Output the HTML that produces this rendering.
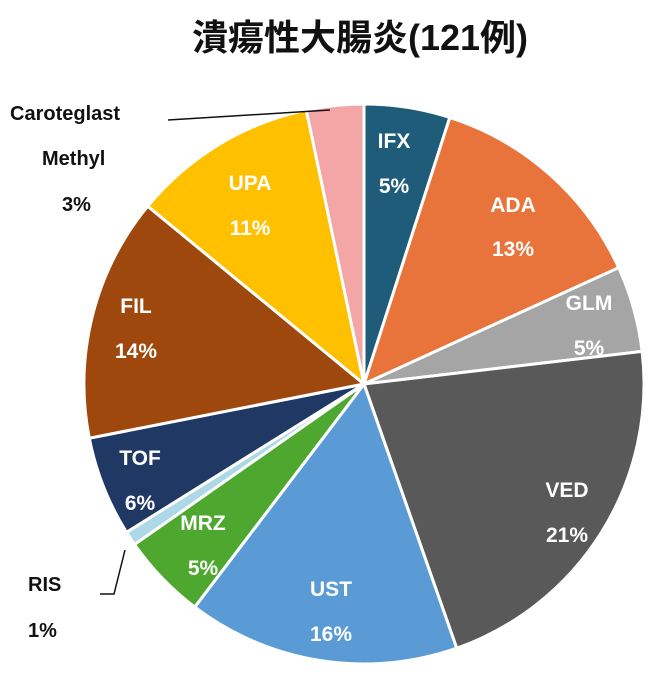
<!DOCTYPE html>
<html><head><meta charset="utf-8"><style>
html,body{margin:0;padding:0;background:#fff;}
svg{display:block;}
text{font-family:"Liberation Sans","Noto Sans CJK JP",sans-serif;font-weight:bold;}
</style></head><body>
<svg id="s" width="662" height="694" viewBox="0 0 662 694">
<text x="360" y="50" font-size="36" text-anchor="middle" fill="#111">潰瘍性大腸炎(121例)</text>
<g id="pie"></g>
<g font-size="21" fill="#fff" text-anchor="middle">
<text x="394" y="148">IFX</text><text x="394" y="193">5%</text>
<text x="513" y="212">ADA</text><text x="513" y="256">13%</text>
<text x="589" y="310">GLM</text><text x="589" y="355">5%</text>
<text x="567" y="497">VED</text><text x="567" y="542">21%</text>
<text x="331" y="596">UST</text><text x="331" y="641">16%</text>
<text x="203" y="530">MRZ</text><text x="203" y="575">5%</text>
<text x="140" y="465">TOF</text><text x="140" y="510">6%</text>
<text x="136" y="313">FIL</text><text x="136" y="358">14%</text>
<text x="250" y="190">UPA</text><text x="250" y="235">11%</text>
</g>
<g font-size="20" fill="#111">
<text x="10" y="120">Caroteglast</text>
<text x="42" y="165">Methyl</text>
<text x="62" y="211">3%</text>
<text x="28" y="591">RIS</text>
<text x="28" y="637">1%</text>
</g>
<polyline points="168,120 330,110" fill="none" stroke="#111" stroke-width="1.5"/>
<polyline points="100,594 114,594 125,550" fill="none" stroke="#111" stroke-width="1.5"/>
</svg>
<script>
var d=[[6,"#1F5C7A"],[16,"#E8743B"],[6,"#A5A5A5"],[26,"#595959"],[19,"#5B9BD5"],[6,"#4EA72E"],[1,"#ADD8E6"],[7,"#203864"],[17,"#9E480E"],[13,"#FFC000"],[4,"#F4A6A6"]];
var cx=364,cy=384,r=280,tot=121,a=0,h="";
d.forEach(function(s){
 var a0=a/tot*2*Math.PI;a+=s[0];var a1=a/tot*2*Math.PI;
 var x0=cx+r*Math.sin(a0),y0=cy-r*Math.cos(a0),x1=cx+r*Math.sin(a1),y1=cy-r*Math.cos(a1);
 var l=(a1-a0)>Math.PI?1:0;
 h+='<path d="M'+cx+','+cy+'L'+x0.toFixed(2)+','+y0.toFixed(2)+'A'+r+','+r+' 0 '+l+' 1 '+x1.toFixed(2)+','+y1.toFixed(2)+'Z" fill="'+s[1]+'" stroke="#fff" stroke-width="3"/>';
});
document.getElementById("pie").innerHTML=h;
</script>
</body></html>
